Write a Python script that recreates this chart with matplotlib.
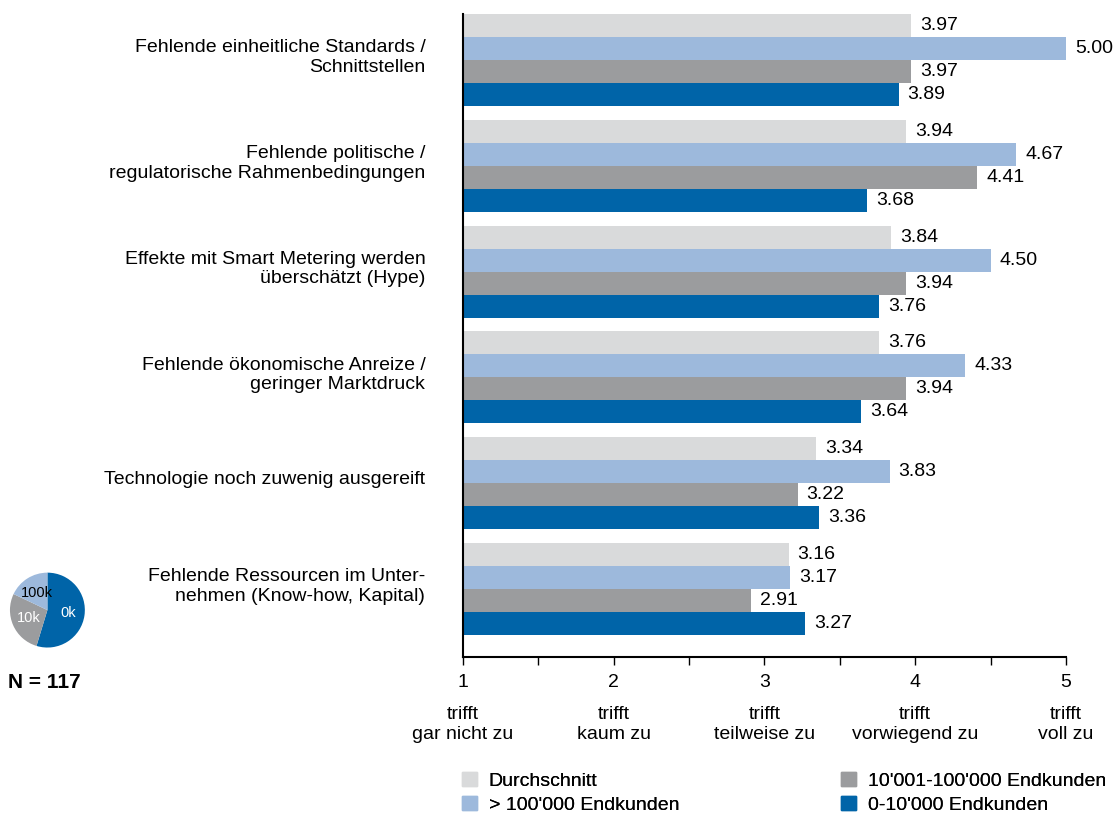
import numpy as np
import matplotlib.pyplot as plt
from matplotlib.patches import Patch

plt.rcParams['font.family'] = ['Liberation Sans', 'DejaVu Sans']

# Hemmnisse (Mittelwerte auf Skala 1-5)
kategorien = [
    "Fehlende einheitliche Standards /\nSchnittstellen",
    "Fehlende politische /\nregulatorische Rahmenbedingungen",
    "Effekte mit Smart Metering werden\nüberschätzt (Hype)",
    "Fehlende ökonomische Anreize /\ngeringer Marktdruck",
    "Technologie noch zuwenig ausgereift",
    "Fehlende Ressourcen im Unter-\nnehmen (Know-how, Kapital)",
]
durchschnitt = [3.97, 3.94, 3.84, 3.76, 3.34, 3.16]
gross = [5.00, 4.67, 4.50, 4.33, 3.83, 3.17]
mittel = [3.97, 4.41, 3.94, 3.94, 3.22, 2.91]
klein = [3.89, 3.68, 3.76, 3.64, 3.36, 3.27]

serien = ["Durchschnitt", "> 100'000 Endkunden",
          "10'001-100'000 Endkunden", "0-10'000 Endkunden"]
farben = ["#D9DADB", "#9DB9DC", "#9B9C9E", "#0064A8"]

skala = [1, 2, 3, 4, 5]
skala_text = ["trifft\ngar nicht zu", "trifft\nkaum zu", "trifft\nteilweise zu",
              "trifft\nvorwiegend zu", "trifft\nvoll zu"]

# Stichprobe nach Unternehmensgrösse
pie_werte = [64, 32, 21]
pie_labels = ["0k", "10k", "100k"]
pie_farben = ["#0064A8", "#9B9C9E", "#9DB9DC"]
pie_textfarben = ["white", "white", "black"]

fs = 14

fig = plt.figure(figsize=(11.18, 8.14), dpi=100)
ax = fig.add_axes([0.414, 0.193, 0.5395, 0.790])

abstand = 4.6
werte = [durchschnitt, gross, mittel, klein]
for k, (serie, farbe) in enumerate(zip(werte, farben)):
    y = np.arange(len(kategorien)) * abstand + k + 0.5
    ax.barh(y, np.array(serie) - 1, left=1, height=1.0, color=farbe, edgecolor='none')
    for yy, v in zip(y, serie):
        ax.annotate(f"{v:.2f}", (v, yy), xytext=(6.5, 0), textcoords='offset points',
                    va='center', ha='left', fontsize=fs)

ax.set_xlim(1, 5)
ax.set_ylim((len(kategorien) - 1) * abstand + 4 + 0.95, 0)
ax.set_yticks(np.arange(len(kategorien)) * abstand + 1.75)
ax.set_yticklabels(kategorien, fontsize=fs, linespacing=1.2)
ax.tick_params(axis='y', length=0, pad=27)

ax.set_xticks(skala)
ax.set_xticks(np.arange(1.5, 5, 1.0), minor=True)
ax.set_xticklabels([str(s) for s in skala], fontsize=fs)
ax.tick_params(axis='x', which='both', direction='out', length=6, width=1, pad=6)
for s, t in zip(skala, skala_text):
    ax.annotate(t, (s, 0), xycoords=('data', 'axes fraction'), xytext=(0, -35),
                textcoords='offset points', ha='center', va='top', fontsize=fs,
                linespacing=1.3)

for side in ['top', 'right']:
    ax.spines[side].set_visible(False)
ax.spines['left'].set_linewidth(1.5)
ax.spines['bottom'].set_linewidth(1.5)

# Legende in zwei Spalten
griffe = [Patch(color=f) for f in farben]
for spalte, x0 in enumerate([0.413, 0.752]):
    lg = fig.legend(griffe[2 * spalte:2 * spalte + 2], serien[2 * spalte:2 * spalte + 2],
                    loc='upper left', bbox_to_anchor=(x0, 0.052), frameon=False,
                    fontsize=fs, handlelength=0.78, handleheight=0.78,
                    handletextpad=0.6, labelspacing=0.3, borderpad=0,
                    borderaxespad=0)
    fig.add_artist(lg)

# Kreisdiagramm Stichprobe
pax = fig.add_axes([0.0089, 0.2045, 0.067, 0.092])
wedges, texts = pax.pie(pie_werte, colors=pie_farben, startangle=90, counterclock=False,
                        labels=pie_labels, labeldistance=0.55,
                        wedgeprops=dict(linewidth=0))
for t, c in zip(texts, pie_textfarben):
    t.set_color(c)
    t.set_fontsize(10.5)
    t.set_ha('center')
    t.set_va('center')
pax.set_xlim(-1, 1)
pax.set_ylim(-1, 1)
pax.set_aspect('equal')
fig.text(0.007, 0.161, "N = 117", fontsize=15, fontweight='bold', va='center', ha='left')

fig.savefig("out.png", dpi=100)
